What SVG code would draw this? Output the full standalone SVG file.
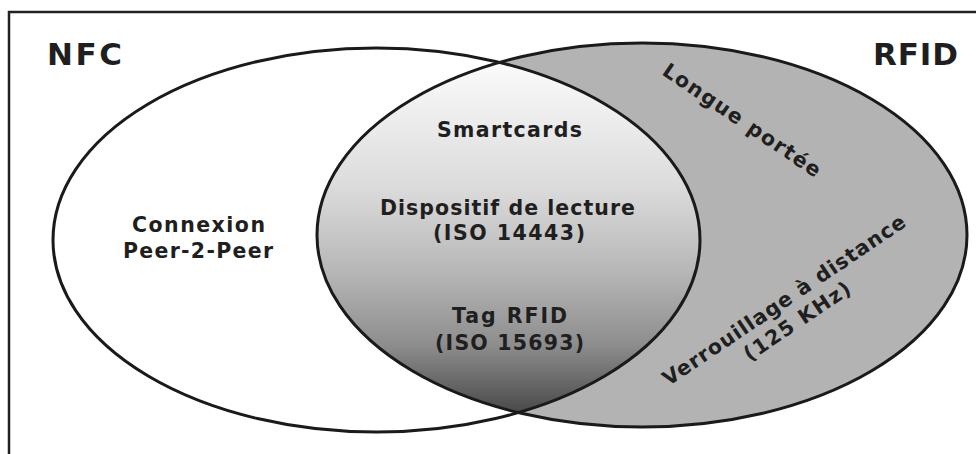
<svg xmlns="http://www.w3.org/2000/svg" width="976" height="454" viewBox="0 0 976 454">
  <style>
    .frame { fill: none; stroke: #222; stroke-width: 2.5; }
    .outline { fill: none; stroke: #1a1a1a; stroke-width: 3; }
    .lbl { font-family: "DejaVu Sans", "Liberation Sans", sans-serif; font-weight: bold; fill: #1f1f1f; }
    .title { font-size: 31px; }
    .item { font-size: 20.5px; }
  </style>
  <defs>
    <linearGradient id="lensFill" gradientUnits="userSpaceOnUse" x1="0" y1="62" x2="0" y2="414">
      <stop offset="0" stop-color="#fbfbfb"/>
      <stop offset="0.35" stop-color="#dcdcdc"/>
      <stop offset="0.6" stop-color="#b6b6b6"/>
      <stop offset="0.8" stop-color="#8e8e8e"/>
      <stop offset="1" stop-color="#484848"/>
    </linearGradient>
    <clipPath id="nfcClip">
      <ellipse cx="376.5" cy="240" rx="323.5" ry="192"/>
    </clipPath>
  </defs>

  <rect width="976" height="454" fill="#ffffff"/>
  <!-- outer frame, open at right and bottom -->
  <path class="frame" d="M9,470 V12 H990"/>

  <!-- NFC set -->
  <g id="nfc">
    <ellipse cx="376.5" cy="240" rx="323.5" ry="192" fill="#ffffff"/>
    <text class="lbl title" x="47" y="65" textLength="75">NFC</text>
    <text class="lbl item" x="198.5" y="232" text-anchor="middle" textLength="133">Connexion</text>
    <text class="lbl item" x="198" y="258" text-anchor="middle" textLength="150">Peer-2-Peer</text>
  </g>

  <!-- RFID set -->
  <g id="rfid">
    <ellipse cx="642" cy="235" rx="325" ry="192" fill="#b3b3b3"/>
    <text class="lbl title" x="873" y="65" textLength="85">RFID</text>
    <text class="lbl item" transform="translate(738,126) rotate(34)" text-anchor="middle" textLength="186">Longue portée</text>
    <text class="lbl item" transform="translate(788,306) rotate(-34)" text-anchor="middle" textLength="288">Verrouillage à distance</text>
    <text class="lbl item" transform="translate(801,327) rotate(-34)" text-anchor="middle" textLength="124">(125 KHz)</text>
  </g>

  <!-- shared area -->
  <g id="intersection">
    <ellipse cx="642" cy="235" rx="325" ry="192" fill="url(#lensFill)" clip-path="url(#nfcClip)"/>
    <text class="lbl item" x="509.5" y="137" text-anchor="middle" textLength="145">Smartcards</text>
    <text class="lbl item" x="507.5" y="215" text-anchor="middle" textLength="255">Dispositif de lecture</text>
    <text class="lbl item" x="509" y="240" text-anchor="middle" textLength="152">(ISO 14443)</text>
    <text class="lbl item" x="509.5" y="323" text-anchor="middle" textLength="115">Tag RFID</text>
    <text class="lbl item" x="509.5" y="350" text-anchor="middle" textLength="149">(ISO 15693)</text>
  </g>

  <!-- set outlines drawn above the fills -->
  <g id="outlines">
    <ellipse class="outline" cx="376.5" cy="240" rx="323.5" ry="192"/>
    <ellipse class="outline" cx="642" cy="235" rx="325" ry="192"/>
  </g>
</svg>
